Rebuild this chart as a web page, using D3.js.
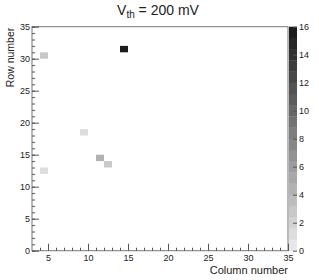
<!DOCTYPE html>
<html>
<head>
<meta charset="utf-8">
<script src="https://cdn.jsdelivr.net/npm/d3@7"></script>
<style>
    body { margin: 0; background: #fff; }
    text { font-family: "Liberation Sans", Arial, sans-serif; fill: #222; }
</style>
</head>
<body>
<svg id="chart" width="319" height="280"></svg>
<script>
"use strict";

// hit map: column / row of each filled cell and its count
const cols = [4, 14, 9, 11, 12, 4];
const rows = [30, 31, 18, 14, 13, 12];
const counts = [3, 16, 1, 4, 3, 1];
const zTicks = [0, 2, 4, 6, 8, 10, 12, 14, 16];
const xTicks = [5, 10, 15, 20, 25, 30, 35];
const yTicks = [0, 5, 10, 15, 20, 25, 30, 35];

const svg = d3.select("#chart");
const frame = { left: 32, right: 288, top: 26.7, bottom: 250.7 };

const x = d3.scaleLinear().domain([3, 35]).range([frame.left, frame.right]);
const y = d3.scaleLinear().domain([0, 35]).range([frame.bottom, frame.top]);

// 20 contour levels, light to dark grey
const nLevels = 20;
const greys = d3.range(nLevels).map(i => {
    const g = Math.round(232 - i * (232 - 28) / (nLevels - 1));
    return d3.rgb(g, g, g).toString();
});
const color = d3.scaleQuantize().domain([0, 16]).range(greys);

// cells
const cells = cols.map((c, i) => ({ c: c, r: rows[i], v: counts[i] }));
svg.append("g").selectAll("rect")
    .data(cells)
    .enter()
    .append("rect")
    .attr("x", d => x(d.c))
    .attr("y", d => y(d.r + 1))
    .attr("width", d => x(d.c + 1) - x(d.c))
    .attr("height", d => y(d.r) - y(d.r + 1))
    .style("fill", d => color(d.v));

// frame
svg.append("rect")
    .attr("x", frame.left).attr("y", frame.top)
    .attr("width", frame.right - frame.left).attr("height", frame.bottom - frame.top)
    .style("fill", "none").style("stroke", "#777").style("stroke-width", 1);

const styleAxis = g => {
    g.select(".domain").remove();
    g.selectAll("line").style("stroke", "#555");
    g.selectAll("text").style("font-size", "9px").style("font-family", "Liberation Sans, Arial, sans-serif").style("fill", "#222");
};

// x axis: major + minor ticks pointing inward
svg.append("g")
    .attr("transform", "translate(0," + frame.bottom + ")")
    .call(d3.axisBottom(x).tickValues(d3.range(4, 36)).tickSize(-3).tickFormat(""))
    .call(styleAxis);
svg.append("g")
    .attr("transform", "translate(0," + frame.bottom + ")")
    .call(d3.axisBottom(x).tickValues(xTicks).tickSize(-7).tickPadding(4).tickFormat(d3.format("d")))
    .call(styleAxis);

// y axis
svg.append("g")
    .attr("transform", "translate(" + frame.left + ",0)")
    .call(d3.axisLeft(y).tickValues(d3.range(0, 36)).tickSize(-3).tickFormat(""))
    .call(styleAxis);
svg.append("g")
    .attr("transform", "translate(" + frame.left + ",0)")
    .call(d3.axisLeft(y).tickValues(yTicks).tickSize(-7).tickPadding(2).tickFormat(d3.format("d")))
    .call(styleAxis);

// colour bar
const bar = { left: 289, right: 297 };
const z = d3.scaleLinear().domain([0, 16]).range([frame.bottom, frame.top]);
const step = 16 / nLevels;
svg.append("g").selectAll("rect")
    .data(greys)
    .enter()
    .append("rect")
    .attr("x", bar.left)
    .attr("y", (d, i) => z((i + 1) * step))
    .attr("width", bar.right - bar.left)
    .attr("height", (d, i) => z(i * step) - z((i + 1) * step) + 0.3)
    .style("fill", d => d);
svg.append("g")
    .attr("transform", "translate(" + bar.right + ",0)")
    .call(d3.axisRight(z).tickValues(zTicks).tickSize(-4).tickPadding(2).tickFormat(d3.format("d")))
    .call(styleAxis);

// titles
const title = svg.append("text")
    .attr("x", 158).attr("y", 15)
    .attr("text-anchor", "middle")
    .style("font-size", "14px");
title.append("tspan").text("V");
title.append("tspan").attr("dy", 3).style("font-size", "10px").text("th");
title.append("tspan").attr("dy", -3).text(" = 200 mV");

svg.append("text")
    .attr("x", frame.right).attr("y", 274)
    .attr("text-anchor", "end")
    .style("font-size", "11px")
    .text("Column number");

svg.append("text")
    .attr("transform", "translate(14," + (frame.top + 1) + ") rotate(-90)")
    .attr("text-anchor", "end")
    .style("font-size", "10.5px")
    .text("Row number");
</script>
</body>
</html>
